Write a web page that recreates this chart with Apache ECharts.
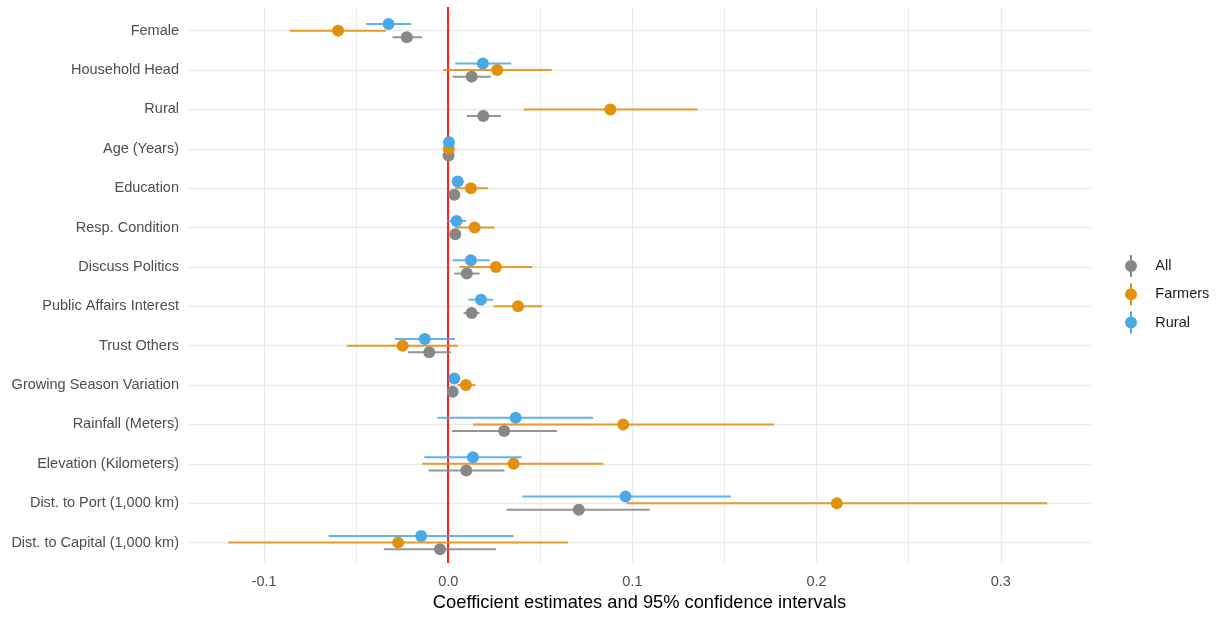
<!DOCTYPE html>
<html>
<head>
<meta charset="utf-8">
<script src="https://cdn.jsdelivr.net/npm/echarts@6/dist/echarts.min.js"></script>
<style>html,body{margin:0;padding:0;background:#fff}#c{width:1217px;height:617px}</style>
</head>
<body>
<div id="c"></div>
<script>
const categories = ['Female','Household Head','Rural','Age (Years)','Education','Resp. Condition','Discuss Politics','Public Affairs Interest','Trust Others','Growing Season Variation','Rainfall (Meters)','Elevation (Kilometers)','Dist. to Port (1,000 km)','Dist. to Capital (1,000 km)'];

// estimates, lower and upper 95% CI bounds (one entry per category, top to bottom)
const allEst   = [-0.0225, 0.0127, 0.0190, 0.0002, 0.0033, 0.0038, 0.0101, 0.0127, -0.0103, 0.0024, 0.0304, 0.0098, 0.0709, -0.0045];
const allLo    = [-0.0303, 0.0024, 0.0101, 0.0000, 0.0010, 0.0010, 0.0033, 0.0083, -0.0219, 0.0005, 0.0020, -0.0107, 0.0317, -0.0350];
const allHi    = [-0.0143, 0.0230, 0.0286, 0.0004, 0.0060, 0.0065, 0.0170, 0.0170, 0.0016, 0.0045, 0.0590, 0.0306, 0.1094, 0.0259];

const farmEst  = [-0.0598, 0.0266, 0.0880, 0.0003, 0.0123, 0.0143, 0.0259, 0.0379, -0.0248, 0.0096, 0.0950, 0.0355, 0.2110, -0.0272];
const farmLo   = [-0.0859, -0.0027, 0.0410, 0.0000, 0.0038, 0.0040, 0.0062, 0.0246, -0.0551, 0.0050, 0.0134, -0.0141, 0.0968, -0.1193];
const farmHi   = [-0.0337, 0.0562, 0.1355, 0.0006, 0.0217, 0.0252, 0.0457, 0.0509, 0.0053, 0.0147, 0.1768, 0.0842, 0.3252, 0.0650];

const ruralEst = [-0.0324, 0.0188, null, 0.0004, 0.0051, 0.0045, 0.0123, 0.0178, -0.0127, 0.0033, 0.0366, 0.0134, 0.0963, -0.0147];
const ruralLo  = [-0.0446, 0.0038, null, 0.0001, 0.0025, -0.0007, 0.0024, 0.0110, -0.0290, 0.0010, -0.0058, -0.0130, 0.0402, -0.0649];
const ruralHi  = [-0.0201, 0.0342, null, 0.0007, 0.0085, 0.0098, 0.0225, 0.0243, 0.0036, 0.0060, 0.0786, 0.0398, 0.1535, 0.0355];

const xTickLabels = [-0.1, 0, 0.1, 0.2, 0.3];
const xMajorGrid = [-0.1, 0, 0.1, 0.2, 0.3];
const xMinorGrid = [-0.05, 0.05, 0.15, 0.25];

const seriesNames = ['All', 'Farmers', 'Rural'];
const seriesColors = ['#878787', '#E3900B', '#4BA8E7'];
const dodge = [0.168, 0, -0.168];

function build(est, lo, hi) {
  const out = [];
  est.forEach((v, i) => { if (v !== null) out.push([i, v, lo[i], hi[i]]); });
  return out;
}
const seriesData = [build(allEst, allLo, allHi), build(farmEst, farmLo, farmHi), build(ruralEst, ruralLo, ruralHi)];

const font = "'Liberation Sans', Arial, Helvetica, sans-serif";
const chart = echarts.init(document.getElementById('c'), null, {renderer: 'canvas'});

const pointSeries = seriesNames.map((name, s) => ({
  name: name,
  type: 'custom',
  z: 5 + s,
  animation: false,
  itemStyle: {color: seriesColors[s]},
  data: seriesData[s],
  renderItem: function (params, api) {
    const idx = api.value(0), est = api.value(1), lo = api.value(2), hi = api.value(3);
    const band = api.size([0, 1])[1];
    const pE = api.coord([est, idx]);
    const pL = api.coord([lo, idx]);
    const pH = api.coord([hi, idx]);
    const y = pE[1] + dodge[s] * band;
    return {
      type: 'group',
      children: [
        {type: 'line', shape: {x1: pL[0], y1: y, x2: pH[0], y2: y}, style: {stroke: seriesColors[s], lineWidth: 2, opacity: 0.88}},
        {type: 'circle', shape: {cx: pE[0], cy: y, r: 6}, style: {fill: seriesColors[s]}}
      ]
    };
  }
}));

const gridLineSeries = {
  name: 'grid', type: 'line', data: [], z: 1, silent: true, animation: false,
  markLine: {
    silent: true, symbol: ['none', 'none'], label: {show: false}, animation: false,
    data: [].concat(
      categories.map((c, i) => ({yAxis: i, lineStyle: {color: '#e9e9e9', width: 1.4, type: 'solid'}})),
      xMajorGrid.map(v => ({xAxis: v, lineStyle: {color: '#e9e9e9', width: 1.4, type: 'solid'}})),
      xMinorGrid.map(v => ({xAxis: v, lineStyle: {color: '#ececec', width: 1.1, type: 'solid'}}))
    )
  }
};
const zeroLineSeries = {
  name: 'zero', type: 'line', data: [], z: 3, silent: true, animation: false,
  markLine: {
    silent: true, symbol: ['none', 'none'], label: {show: false}, animation: false,
    data: [{xAxis: 0, lineStyle: {color: '#ff1f1f', width: 2, type: 'solid'}}]
  }
};

const iconPath = 'path://M5,0 L7,0 L7,5.1 L5,5.1 Z M5,16.9 L7,16.9 L7,22 L5,22 Z M0,11 A6,6 0 1,0 12,11 A6,6 0 1,0 0,11 Z';

chart.setOption({
  backgroundColor: '#ffffff',
  animation: false,
  textStyle: {fontFamily: font},
  grid: {left: 188, right: 126, top: 7, bottom: 49, containLabel: false},
  legend: {
    data: seriesNames,
    orient: 'vertical',
    left: 1120, top: 250,
    itemWidth: 38.6, itemHeight: 22, itemGap: 6.3,
    icon: iconPath,
    textStyle: {fontFamily: font, fontSize: 14.5, color: '#1a1a1a'},
    selectedMode: false
  },
  xAxis: {
    type: 'value', min: -0.1413, max: 0.3490,
    axisLine: {show: false}, axisTick: {show: false}, splitLine: {show: false},
    axisLabel: {customValues: xTickLabels, formatter: v => v.toFixed(1), color: '#4d4d4d', fontSize: 14.5, fontFamily: font, margin: 11},
    name: 'Coefficient estimates and 95% confidence intervals',
    nameLocation: 'middle', nameGap: 30,
    nameTextStyle: {color: '#000000', fontSize: 18.3, fontFamily: font}
  },
  yAxis: {
    type: 'value', inverse: true, min: -0.6, max: 13.52,
    axisLine: {show: false}, axisTick: {show: false}, splitLine: {show: false},
    axisLabel: {customValues: categories.map((c, i) => i), formatter: v => categories[Math.round(v)], color: '#4d4d4d', fontSize: 14.5, fontFamily: font, margin: 9}
  },
  series: [gridLineSeries, zeroLineSeries].concat(pointSeries)
});
</script>
</body>
</html>
